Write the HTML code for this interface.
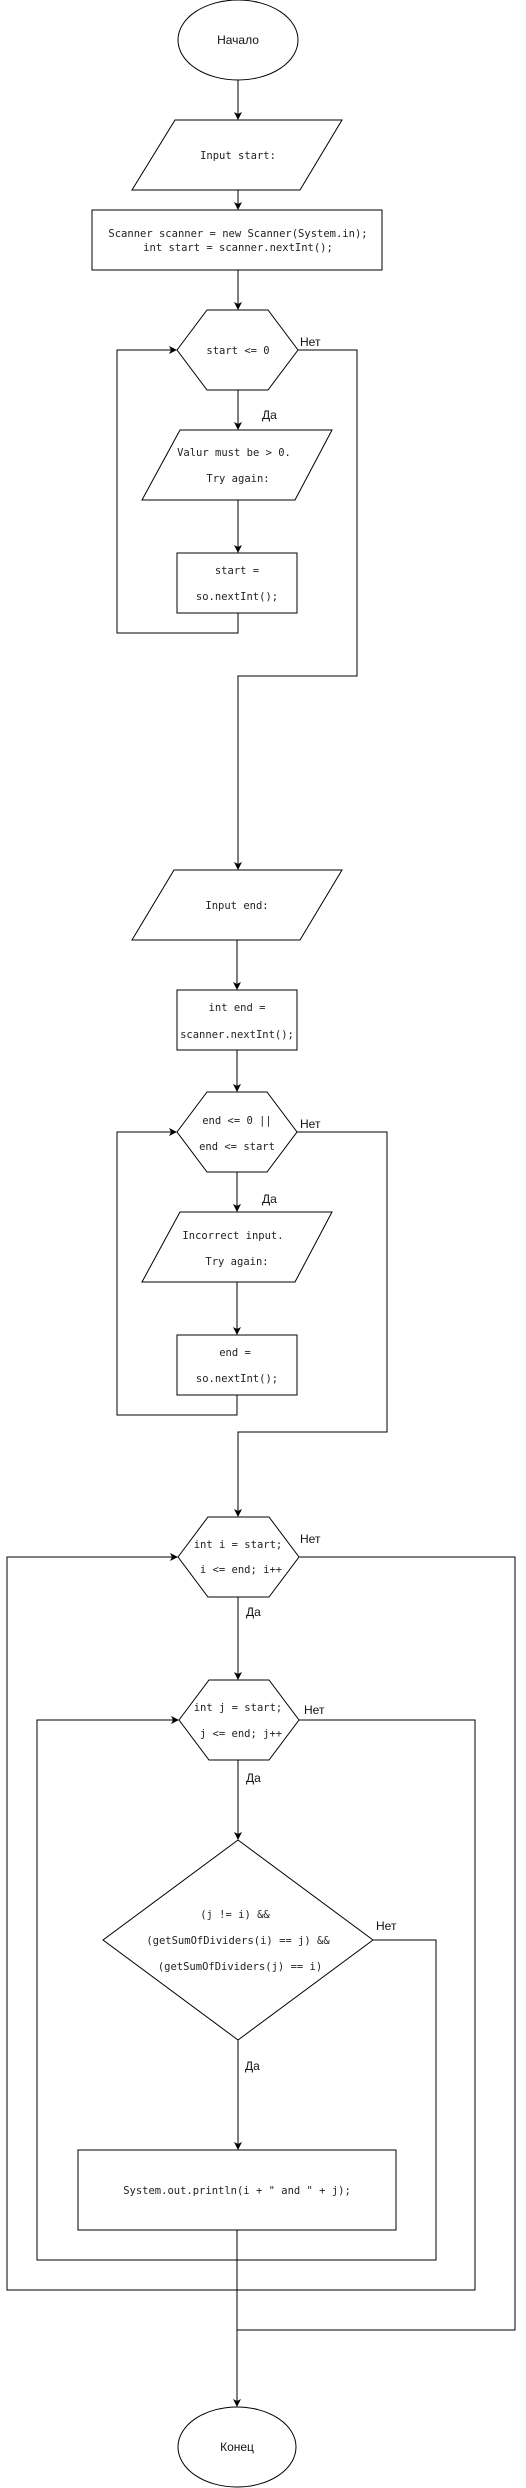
<!DOCTYPE html>
<html><head><meta charset="utf-8"><style>
html,body{margin:0;padding:0;background:#fff}
svg{display:block}
.m{font-family:"DejaVu Sans Mono","Liberation Mono",monospace;font-size:10.5px;fill:#222}
.s{font-family:"Liberation Sans",sans-serif;font-size:12px;fill:#111}
</style></head><body>
<svg width="526" height="2488" viewBox="0 0 526 2488" xmlns="http://www.w3.org/2000/svg">
<defs><marker id="a" markerWidth="8" markerHeight="8" refX="7" refY="4" orient="auto" markerUnits="userSpaceOnUse"><path d="M0,0 L8,4 L0,8 L2,4 z" fill="#000"/></marker></defs>
<g fill="none" stroke="#000" stroke-width="1">
<ellipse cx="238" cy="40" rx="60" ry="40"/>
<polygon points="175,120 342,120 300,190 132,190"/>
<rect x="92" y="210" width="290" height="60"/>
<polygon points="177,350 207,310 268,310 298,350 268,390 207,390"/>
<polygon points="180,430 332,430 295,500 142,500"/>
<rect x="177" y="553" width="120" height="60"/>
<polygon points="174,870 342,870 300,940 132,940"/>
<rect x="177" y="990" width="120" height="60"/>
<polygon points="177,1132 207,1092 267,1092 297,1132 267,1172 207,1172"/>
<polygon points="180,1212 332,1212 295,1282 142,1282"/>
<rect x="177" y="1335" width="120" height="60"/>
<polygon points="178,1557 208,1517 269,1517 299,1557 269,1597 208,1597"/>
<polygon points="179,1720 209,1680 269,1680 299,1720 269,1760 209,1760"/>
<polygon points="238,1840 373,1940 238,2040 103,1940"/>
<rect x="78" y="2150" width="318" height="80"/>
<ellipse cx="237" cy="2447" rx="59" ry="40"/>
<path d="M238,80 V119" marker-end="url(#a)"/>
<path d="M238,190 V209" marker-end="url(#a)"/>
<path d="M238,270 V309" marker-end="url(#a)"/>
<path d="M238,390 V429" marker-end="url(#a)"/>
<path d="M238,500 V552" marker-end="url(#a)"/>
<path d="M238,613 V633 H117 V350 H176" marker-end="url(#a)"/>
<path d="M298,350 H357 V676 H238 V869" marker-end="url(#a)"/>
<path d="M237,940 V989" marker-end="url(#a)"/>
<path d="M237,1050 V1091" marker-end="url(#a)"/>
<path d="M237,1172 V1211" marker-end="url(#a)"/>
<path d="M237,1282 V1334" marker-end="url(#a)"/>
<path d="M237,1395 V1415 H117 V1132 H176" marker-end="url(#a)"/>
<path d="M297,1132 H387 V1432 H238 V1516" marker-end="url(#a)"/>
<path d="M238,1597 V1679" marker-end="url(#a)"/>
<path d="M238,1760 V1839" marker-end="url(#a)"/>
<path d="M238,2040 V2149" marker-end="url(#a)"/>
<path d="M237,2230 V2406" marker-end="url(#a)"/>
<path d="M373,1940 H436 V2260 H37 V1720 H178" marker-end="url(#a)"/>
<path d="M299,1720 H475 V2290 H7 V1557 H177" marker-end="url(#a)"/>
<path d="M299,1557 H515 V2330 H237"/>
</g>
<g text-anchor="middle">
<text class="s" x="238" y="44">Начало</text>
<text class="m" x="238" y="159">Input start:</text>
<text class="m" x="238" y="237">Scanner scanner = new Scanner(System.in);</text>
<text class="m" x="238" y="251">int start = scanner.nextInt();</text>
<text class="m" x="238" y="354">start &lt;= 0</text>
<text class="m" x="234" y="456">Valur must be &gt; 0.</text>
<text class="m" x="238" y="482">Try again:</text>
<text class="m" x="237" y="574">start =</text>
<text class="m" x="237" y="600">so.nextInt();</text>
<text class="m" x="237" y="909">Input end:</text>
<text class="m" x="237" y="1011">int end =</text>
<text class="m" x="237" y="1038">scanner.nextInt();</text>
<text class="m" x="237" y="1124">end &lt;= 0 ||</text>
<text class="m" x="237" y="1150">end &lt;= start</text>
<text class="m" x="233" y="1239">Incorrect input.</text>
<text class="m" x="237" y="1265">Try again:</text>
<text class="m" x="235" y="1356">end =</text>
<text class="m" x="237" y="1382">so.nextInt();</text>
<text class="m" x="238" y="1548">int i = start;</text>
<text class="m" x="241" y="1573">i &lt;= end; i++</text>
<text class="m" x="238" y="1711">int j = start;</text>
<text class="m" x="241" y="1737">j &lt;= end; j++</text>
<text class="m" x="235" y="1918">(j != i) &amp;&amp;</text>
<text class="m" x="238" y="1944">(getSumOfDividers(i) == j) &amp;&amp;</text>
<text class="m" x="240" y="1970">(getSumOfDividers(j) == i)</text>
<text class="m" x="237" y="2194">System.out.println(i + " and " + j);</text>
<text class="s" x="237" y="2451">Конец</text>
</g>
<g>
<text class="s" x="300" y="346">Нет</text>
<text class="s" x="262" y="419">Да</text>
<text class="s" x="300" y="1128">Нет</text>
<text class="s" x="262" y="1203">Да</text>
<text class="s" x="300" y="1543">Нет</text>
<text class="s" x="246" y="1616">Да</text>
<text class="s" x="304" y="1714">Нет</text>
<text class="s" x="246" y="1782">Да</text>
<text class="s" x="376" y="1930">Нет</text>
<text class="s" x="245" y="2070">Да</text>
</g>
</svg>
</body></html>
